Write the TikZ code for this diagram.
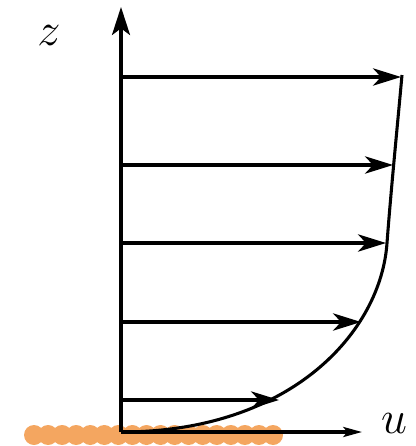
\documentclass[tikz,border=0pt]{standalone}
\usetikzlibrary{arrows.meta}
\begin{document}
\begin{tikzpicture}[x=0.75pt,y=-0.75pt,
  profarrow/.style={line width=2.3pt,-{Stealth[length=21pt,width=13pt,inset=6pt]}},
  axisz/.style={line width=2.6pt,-{Stealth[length=21pt,width=13.5pt,inset=5pt]}},
  axisu/.style={line width=2.4pt,-{Stealth[length=14pt,width=7.5pt,inset=3pt]}},
  grain/.style={fill={rgb,255:red,244;green,166;blue,96},draw=none},
  lbl/.style={inner sep=0pt,font=\Huge,scale=1.4}]
\useasboundingbox (0,0) rectangle (415,446);
% sand grains
\foreach \i in {0,...,17}{
  \fill[grain] ({34+\i*14.06},435) circle (10);
}
% coordinates
\coordinate (O) at (121,432);
\coordinate (ztop) at (121,7);
\coordinate (uend) at (362,432);
\coordinate (knee) at (387,243);
\coordinate (top) at (402,75);
\foreach \n/\y/\x in {a/77/401,b/165/393,c/243/386,d/322/361,e/400/279}{
  \coordinate (s\n) at (121,\y);
  \coordinate (t\n) at (\x,\y);
}
% axes
\draw[axisz] (O) -- (ztop);
\draw[axisu] (O) -- (uend);
% profile arrows
\foreach \n in {a,b,c,d,e}{
  \draw[profarrow] (s\n) -- (t\n);
}
% profile curve
\draw[line width=2.3pt,line join=round] (O) .. controls (292,432) and (381,331) .. (knee) .. controls (391,190) and (397,130) .. (top);
% labels
\node[lbl] (zl) at (49,36) {$z$};
\node[lbl] (ul) at (394,423) {$u$};
\end{tikzpicture}
\end{document}
